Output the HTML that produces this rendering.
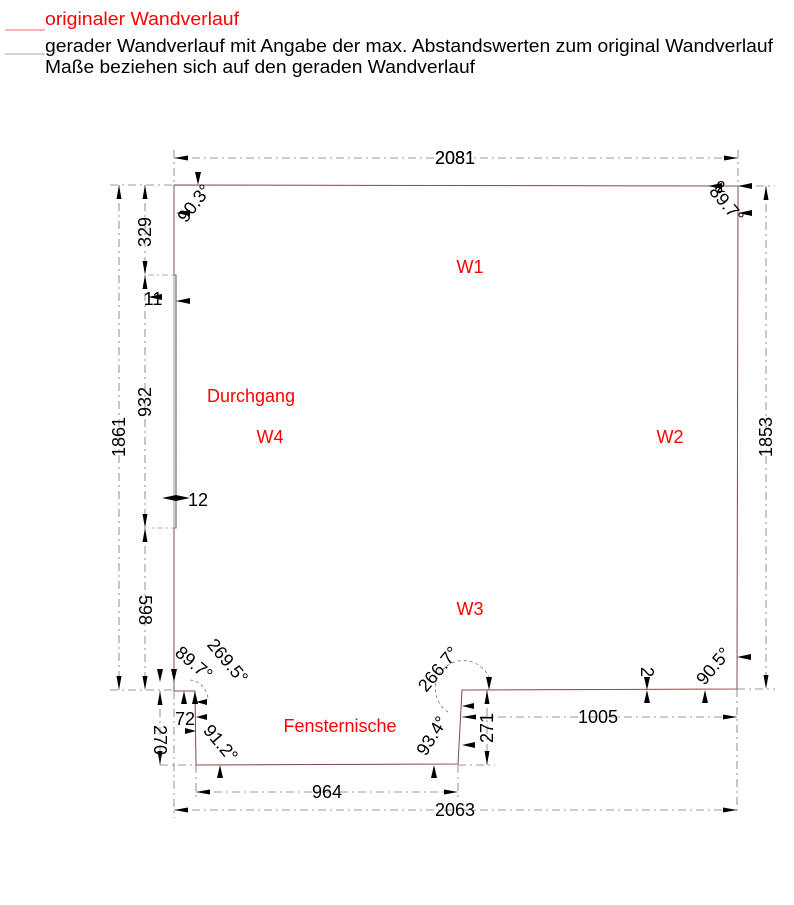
<!DOCTYPE html>
<html><head><meta charset="utf-8"><style>
body{margin:0;background:#fff;width:794px;height:900px;overflow:hidden}
svg text{font-family:"Liberation Sans",sans-serif}
</style></head><body>
<svg width="794" height="900" viewBox="0 0 794 900" xmlns="http://www.w3.org/2000/svg">
<defs>
<marker id="ae" markerWidth="14" markerHeight="8" refX="14" refY="4" orient="auto" markerUnits="userSpaceOnUse"><path d="M0,1.5 L14,4 L0,6.5Z" fill="#000"/></marker>
<marker id="as" markerWidth="14" markerHeight="8" refX="0" refY="4" orient="auto" markerUnits="userSpaceOnUse"><path d="M14,1.5 L0,4 L14,6.5Z" fill="#000"/></marker>
</defs>
<!-- legend -->
<line x1="5" y1="30" x2="45" y2="30" stroke="#f33" stroke-width="0.8"/>
<text x="45" y="25" font-size="18" fill="#f00" textLength="194" lengthAdjust="spacingAndGlyphs">originaler Wandverlauf</text>
<line x1="5" y1="54" x2="45" y2="54" stroke="#888" stroke-width="0.8"/>
<text x="45" y="52" font-size="18" fill="#000" textLength="728" lengthAdjust="spacingAndGlyphs">gerader Wandverlauf mit Angabe der max. Abstandswerten zum original Wandverlauf</text>
<text x="45" y="73" font-size="18" fill="#000" textLength="430" lengthAdjust="spacingAndGlyphs">Maße beziehen sich auf den geraden Wandverlauf</text>

<!-- walls -->
<g fill="none" stroke-width="1">
<path d="M174,185 L738,186 L737,689 L462,690 L458,764 L196,765 L195,691 L174,691 L174,528 L176,528 L176,275 L174,275 Z" stroke="#c44"/>
<path d="M174,185 L738,186 L737,689 L462,690 L458,764 L196,765 L195,691 L174,691 Z" stroke="#555" stroke-width="0.6"/>
<path d="M148,275 L176,275 L176,528 L148,528" stroke="#999" stroke-width="0.7" stroke-dasharray="6,3,2,3"/>
<line x1="176" y1="275" x2="176" y2="528" stroke="#444" stroke-width="0.8"/>
</g>

<!-- dimension lines -->
<g stroke="#777" stroke-width="0.8" stroke-dasharray="8,4,2,4" fill="none">
<line x1="174" y1="158" x2="738" y2="158" marker-start="url(#as)" marker-end="url(#ae)"/>
<line x1="174" y1="150" x2="174" y2="185"/><line x1="738" y1="150" x2="738" y2="186"/>
<line x1="119" y1="185" x2="119" y2="690" marker-start="url(#as)" marker-end="url(#ae)"/>
<line x1="110" y1="185" x2="174" y2="185"/><line x1="110" y1="690" x2="174" y2="690"/>
<line x1="145" y1="185" x2="145" y2="275" marker-start="url(#as)" marker-end="url(#ae)"/>
<line x1="145" y1="275" x2="145" y2="528" marker-start="url(#as)" marker-end="url(#ae)"/>
<line x1="145" y1="528" x2="145" y2="690" marker-start="url(#as)" marker-end="url(#ae)"/>
<line x1="766" y1="186" x2="766" y2="689" marker-start="url(#as)" marker-end="url(#ae)"/>
<line x1="738" y1="186" x2="775" y2="186"/><line x1="737" y1="689" x2="775" y2="689"/>
<line x1="462" y1="717" x2="737" y2="717" marker-start="url(#as)" marker-end="url(#ae)"/>
<line x1="737" y1="689" x2="737" y2="812"/>
<line x1="487" y1="690" x2="487" y2="765" marker-start="url(#as)" marker-end="url(#ae)"/>
<line x1="458" y1="765" x2="495" y2="765"/>
<line x1="160" y1="691" x2="160" y2="765" marker-start="url(#as)" marker-end="url(#ae)"/>
<line x1="160" y1="765" x2="196" y2="765"/>
<line x1="196" y1="792" x2="458" y2="792" marker-start="url(#as)" marker-end="url(#ae)"/>
<line x1="196" y1="765" x2="196" y2="800"/><line x1="458" y1="765" x2="458" y2="800"/>
<line x1="174" y1="810" x2="737" y2="810" marker-start="url(#as)" marker-end="url(#ae)"/>
<line x1="174" y1="691" x2="174" y2="818"/>
<path d="M448,712 A28,28 0 1 1 490,680" stroke-dasharray="3,3"/>
<path d="M190,680 A20,20 0 0 1 208,700" stroke-dasharray="3,3"/>
</g>

<!-- small arrow ticks -->
<g fill="#000">
<path d="M148,297 l14,-3 v6z"/><path d="M176,301 l14,-3 v6z"/>
<path d="M162,498 l14,-3 v6z"/><path d="M190,498 l-14,-3 v6z"/>
<path d="M708,186 l14,-3 v6z"/><path d="M738,186 l14,-3 v6z"/><path d="M738,213 l14,-3 v6z"/>
<path d="M176,213 l14,-3 v6z"/>
<path d="M737,657 l14,-3 v6z"/>
<path d="M647,690 l-3,-13 h6z"/><path d="M647,690 l-3,13 h6z"/>
<path d="M705,690 l-3,13 h6z"/>
<path d="M489,690 l-3,-13 h6z"/>
<path d="M462,706 l12,-3 v6z"/>
<path d="M462,745 l13,-3 v6z"/>
<path d="M434,765 l-3,13 h6z"/>
<path d="M220,765 l-3,13 h6z"/>
<path d="M196,702 l11,-3 v6z"/><path d="M196,717 l11,-3 v6z"/><path d="M196,731 l-11,-3 v6z"/>
<path d="M195,691 l-3,13 h6z"/><path d="M184,691 l-3,13 h6z"/>
<path d="M174,682 l-3,-13 h6z"/><path d="M160,682 l-3,-13 h6z"/>
<path d="M198,185 l-3,-13 h6z"/>
</g>

<!-- dimension texts -->
<g font-size="18" fill="#000" text-anchor="middle">
<text x="455" y="164" style="paint-order:stroke" stroke="#fff" stroke-width="6">2081</text>
<text x="455" y="164">2081</text>
<text transform="translate(125,437) rotate(-90)">1861</text>
<text transform="translate(151,232) rotate(-90)">329</text>
<text transform="translate(151,402) rotate(-90)">932</text>
<text transform="translate(139,610) rotate(90)">598</text>
<text transform="translate(772,437) rotate(-90)">1853</text>
<text x="598" y="723">1005</text>
<text transform="translate(493,728) rotate(-90)">271</text>
<text transform="translate(154,740) rotate(90)">270</text>
<text x="327" y="798">964</text>
<text x="455" y="816">2063</text>
<text x="153" y="305">11</text>
<text x="198" y="506">12</text>
<text x="185" y="725">72</text>
<text transform="translate(641,672) rotate(90)">2</text>
<text x="721" y="192" font-size="16">2</text>
<text transform="translate(199,207) rotate(-52)">90.3°</text>
<text transform="translate(722,208) rotate(50)">89.7°</text>
<text transform="translate(190,668) rotate(40)">89.7°</text>
<text transform="translate(223,665) rotate(50)">269.5°</text>
<text transform="translate(216,747) rotate(50)">91.2°</text>
<text transform="translate(443,673) rotate(-50)">266.7°</text>
<text transform="translate(437,739) rotate(-58)">93.4°</text>
<text transform="translate(718,670) rotate(-50)">90.5°</text>
</g>

<!-- room labels -->
<g font-size="18" fill="#f00" text-anchor="middle">
<text x="470" y="273">W1</text>
<text x="251" y="402">Durchgang</text>
<text x="270" y="443">W4</text>
<text x="670" y="443">W2</text>
<text x="470" y="615">W3</text>
<text x="340" y="732">Fensternische</text>
</g>
</svg>
</body></html>
